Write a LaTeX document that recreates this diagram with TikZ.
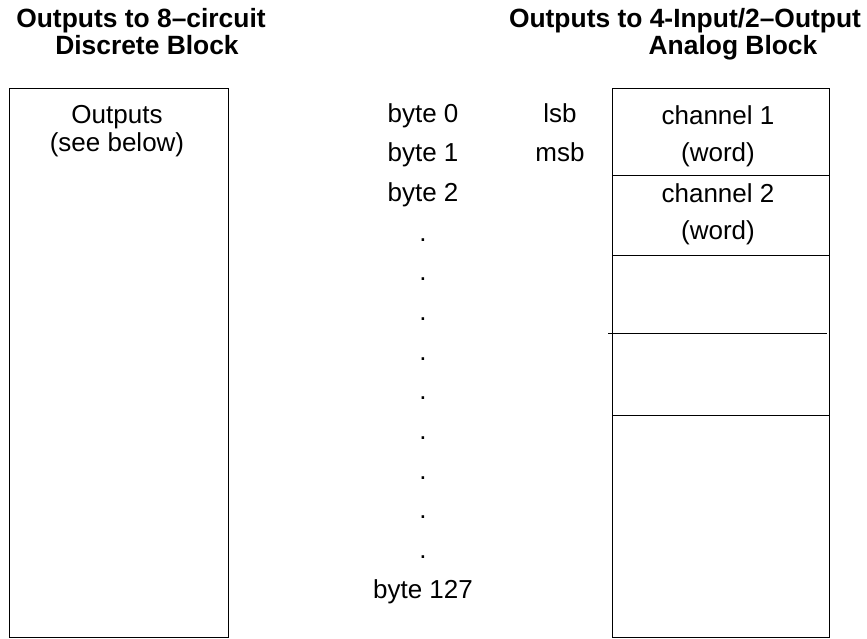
\documentclass[tikz,border=0pt]{standalone}
\usepackage{fontspec}
\setmainfont{Liberation Sans}
\usetikzlibrary{positioning}
\tikzset{
  lbl/.style={anchor=base, inner sep=0pt, font=\fontsize{13}{15}\selectfont},
  ttl/.style={lbl, font=\fontsize{13.2}{15}\selectfont\bfseries},
  blk/.style={draw, line width=0.5pt},
}

\begin{document}
\begin{tikzpicture}[x=0.5pt, y=-0.5pt]
    \useasboundingbox (0,0) rectangle (867,638);

    % titles
    \node[ttl] (T1a) at (141,27) {Outputs to 8--circuit};
    \node[ttl] (T1b) at (147,54) {Discrete Block};
    \node[ttl] (T2a) at (685,27) {Outputs to 4-Input/2--Output};
    \node[ttl] (T2b) at (733,54) {Analog Block};

    % discrete block
    \draw[blk] (9,88) rectangle (228,637);
    \node[lbl] (Out) at (117,123) {Outputs};
    \node[lbl] (See) at (117,151) {(see below)};

    % byte column
    \node[lbl] (B0) at (423,122) {byte 0};
    \node[lbl] (B1) at (423,161.7) {byte 1};
    \node[lbl] (B2) at (423,201.3) {byte 2};
    \foreach \i in {3,...,11}
        \node[lbl] (D\i) at (423,122+39.67*\i) {.};
    \node[lbl] (B127) at (423,598) {byte 127};

    \node[lbl] (Lsb) at (560,122) {lsb};
    \node[lbl] (Msb) at (560,161.7) {msb};

    % analog block
    \draw[blk] (612,88) rectangle (829,637);
    \draw[blk] (612,175) -- (829,175);
    \draw[blk] (612,255) -- (829,255);
    \draw[blk] (608,333) -- (827,333);
    \draw[blk] (612,415) -- (829,415);
    \node[lbl] (Ch1) at (718,124) {channel 1};
    \node[lbl] (W1)  at (718,161) {(word)};
    \node[lbl] (Ch2) at (718,202) {channel 2};
    \node[lbl] (W2)  at (718,239) {(word)};
\end{tikzpicture}
\end{document}
